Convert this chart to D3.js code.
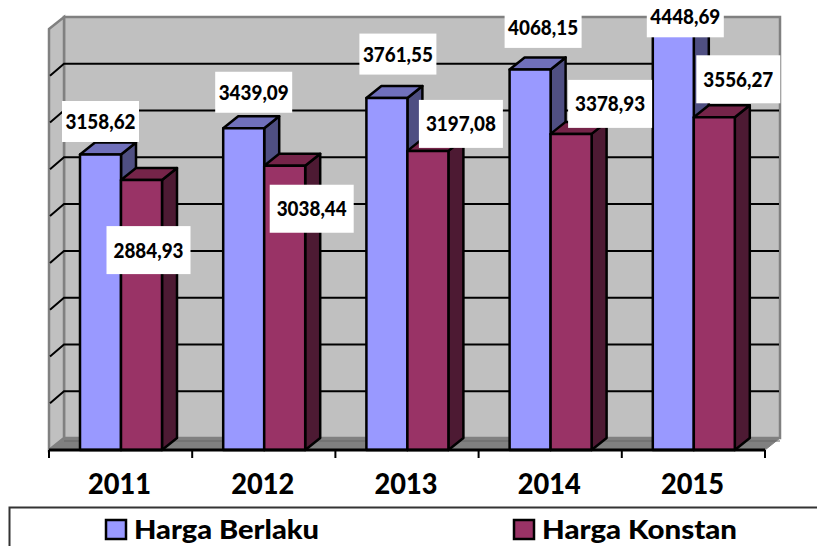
<!DOCTYPE html>
<html><head><meta charset="utf-8">
<script src="https://cdnjs.cloudflare.com/ajax/libs/d3/7.8.5/d3.min.js"></script>
<style>html,body{margin:0;padding:0;background:#fff;overflow:hidden}svg{display:block}text{font-family:Lato,"Open Sans",sans-serif;font-weight:900;fill:#000}</style>
</head><body><svg id="c" width="817" height="546"></svg>
<script>
const years = ["2011","2012","2013","2014","2015"];
const seriesNames = ["Harga Berlaku","Harga Konstan"];
const hargaBerlaku = [3158.62,3439.09,3761.55,4068.15,4448.69];
const hargaKonstan = [2884.93,3038.44,3197.08,3378.93,3556.27];
const labelsBerlaku = ["3158,62","3439,09","3761,55","4068,15","4448,69"];
const labelsKonstan = ["2884,93","3038,44","3197,08","3378,93","3556,27"];
const yTicks = d3.range(0,4501,500);

const DX=15, DY=-12;
const svg=d3.select("#c");
const x=d3.scaleBand().domain(years).range([49,765]).padding(0);
const y=d3.scaleLinear().domain([0,4500]).range([450,29]);
const inner=d3.scaleBand().domain(seriesNames).range([31,113]);
const poly=p=>p.map(q=>q.join(",")).join(" ");
const L=x.range()[0],R=x.range()[1],B=y(0),T=y(4500);

// walls
svg.append("polygon").attr("points",poly([[L+DX,T+DY],[R+DX,T+DY],[R+DX,B+DY],[L+DX,B+DY]])).attr("fill","#c0c0c0").attr("stroke","#808080").attr("stroke-width",2.5);
svg.append("polygon").attr("points",poly([[L,T],[L+DX,T+DY],[L+DX,B+DY],[L,B]])).attr("fill","#c0c0c0").attr("stroke","#808080").attr("stroke-width",2.5);
svg.append("polygon").attr("points",poly([[L,B],[L+DX,B+DY],[R+DX,B+DY],[R,B]])).attr("fill","#808080").attr("stroke","#808080").attr("stroke-width",1);
svg.append("line").attr("x1",L+DX).attr("x2",R+DX).attr("y1",B+DY+3).attr("y2",B+DY+3).attr("stroke","#666").attr("stroke-width",1);

// gridlines
yTicks.filter(t=>t>0&&t<4500).forEach(t=>{
  svg.append("polyline").attr("fill","none").attr("stroke","#000").attr("stroke-width",2)
    .attr("points",poly([[L+1,y(t)],[L+DX,y(t)+DY],[R+DX-1,y(t)+DY]]));
});

// bars
function bar(cx,w,v,front,top,side){
  const yy=y(v), g=svg.append("g").attr("stroke","#000").attr("stroke-width",2.5).attr("stroke-linejoin","round");
  g.append("polygon").attr("points",poly([[cx+w,yy],[cx+w+DX,yy+DY],[cx+w+DX,B+DY],[cx+w,B]])).attr("fill",side);
  g.append("polygon").attr("points",poly([[cx,yy],[cx+DX,yy+DY],[cx+w+DX,yy+DY],[cx+w,yy]])).attr("fill",top);
  g.append("rect").attr("x",cx).attr("y",yy).attr("width",w).attr("height",B-yy).attr("fill",front);
}
years.forEach((yr,i)=>{
  const x0=x(yr);
  bar(x0+inner(seriesNames[0]),inner.bandwidth(),hargaBerlaku[i],"#9999ff","#7070bb","#4f4f82");
  bar(x0+inner(seriesNames[1]),inner.bandwidth(),hargaKonstan[i],"#993366","#752449","#4d1a33");
});

// axis
svg.append("line").attr("x1",L).attr("x2",R).attr("y1",B).attr("y2",B).attr("stroke","#000").attr("stroke-width",3);
[...years.map(d=>x(d)),R].forEach(px=>svg.append("line").attr("x1",px).attr("x2",px).attr("y1",B).attr("y2",B+8).attr("stroke","#000").attr("stroke-width",2));
years.forEach(yr=>svg.append("text").attr("x",x(yr)+x.bandwidth()/2-1).attr("y",494).attr("text-anchor","middle").attr("font-size",28).attr("textLength",63).attr("lengthAdjust","spacingAndGlyphs").text(yr));

// data labels: box centre relative to the bar's top-centre
const berlakuOffset=[[0,-33],[10,-36],[11,-44],[13,-42],[12,-17]];
const konstanOffset=[[7,70],[27,43],[33,-27],[39,-30],[24,-38]];
function label(cx,cy,t,w,h){
  svg.append("rect").attr("x",cx-w/2).attr("y",cy-h/2).attr("width",w).attr("height",h).attr("fill","#fff");
  svg.append("text").attr("x",cx).attr("y",cy+7.5).attr("text-anchor","middle").attr("font-size",20.5).attr("textLength",70).attr("lengthAdjust","spacingAndGlyphs").text(t);
}
years.forEach((yr,i)=>{
  const c0=x(yr)+inner(seriesNames[0])+inner.bandwidth()/2, c1=x(yr)+inner(seriesNames[1])+inner.bandwidth()/2;
  label(c0+berlakuOffset[i][0],y(hargaBerlaku[i])+berlakuOffset[i][1],labelsBerlaku[i],77,41);
  label(c1+konstanOffset[i][0],y(hargaKonstan[i])+konstanOffset[i][1],labelsKonstan[i],84,48);
});

// legend
svg.append("rect").attr("x",9.5).attr("y",507.5).attr("width",830).attr("height",60).attr("fill","#fff").attr("stroke","#333").attr("stroke-width",2);
const legendX=d3.scaleOrdinal().domain(seriesNames).range([106,514]);
const legendW=d3.scaleOrdinal().domain(seriesNames).range([185,195]);
const legendFill=d3.scaleOrdinal().domain(seriesNames).range(["#9999ff","#993366"]);
seriesNames.forEach(n=>{
  svg.append("rect").attr("x",legendX(n)).attr("y",520).attr("width",20).attr("height",19).attr("fill",legendFill(n)).attr("stroke","#000").attr("stroke-width",2.5);
  svg.append("text").attr("x",legendX(n)+28).attr("y",539).attr("font-size",26).attr("textLength",legendW(n)).attr("lengthAdjust","spacingAndGlyphs").text(n);
});
</script></body></html>
